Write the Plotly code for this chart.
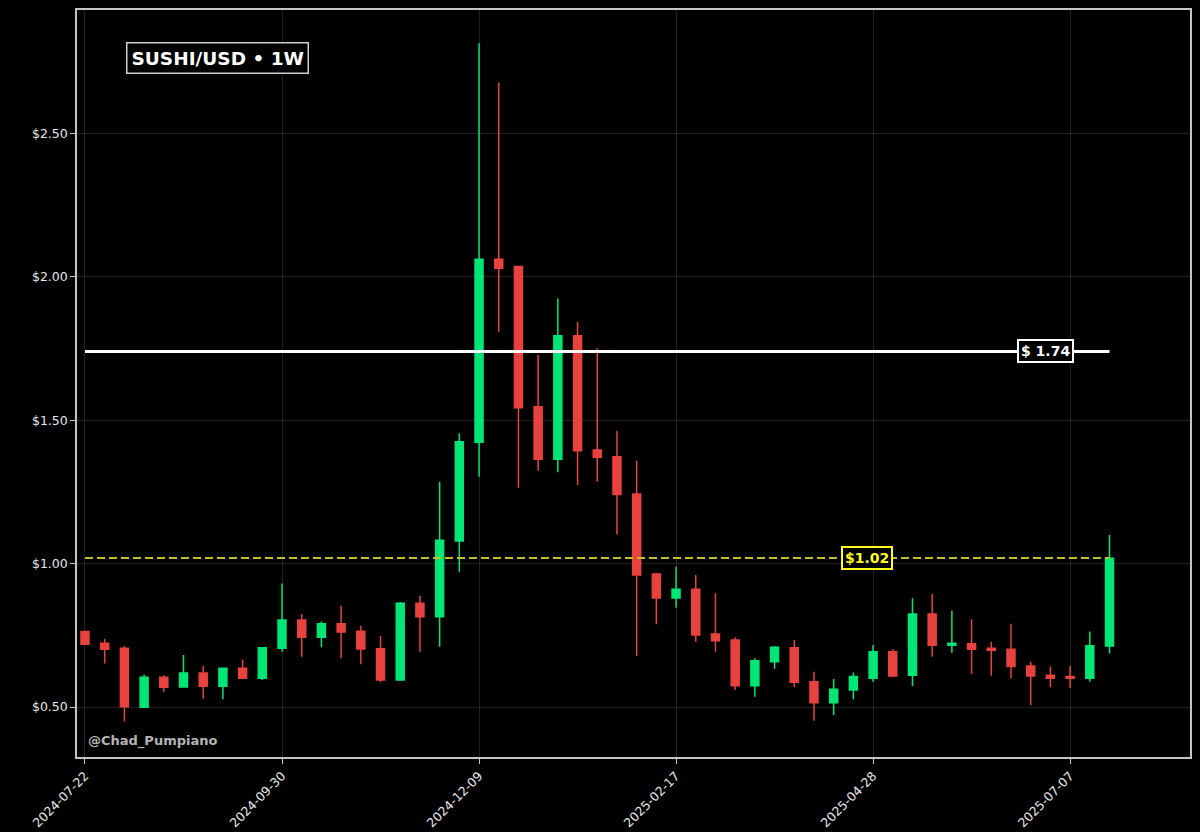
import pandas as pd
import plotly.graph_objects as go

dates = [
    "2024-07-22", "2024-07-29", "2024-08-05", "2024-08-12", "2024-08-19", "2024-08-26",
    "2024-09-02", "2024-09-09", "2024-09-16", "2024-09-23", "2024-09-30", "2024-10-07",
    "2024-10-14", "2024-10-21", "2024-10-28", "2024-11-04", "2024-11-11", "2024-11-18",
    "2024-11-25", "2024-12-02", "2024-12-09", "2024-12-16", "2024-12-23", "2024-12-30",
    "2025-01-06", "2025-01-13", "2025-01-20", "2025-01-27", "2025-02-03", "2025-02-10",
    "2025-02-17", "2025-02-24", "2025-03-03", "2025-03-10", "2025-03-17", "2025-03-24",
    "2025-03-31", "2025-04-07", "2025-04-14", "2025-04-21", "2025-04-28", "2025-05-05",
    "2025-05-12", "2025-05-19", "2025-05-26", "2025-06-02", "2025-06-09", "2025-06-16",
    "2025-06-23", "2025-06-30", "2025-07-07", "2025-07-14", "2025-07-21",
]

opens = [
    0.763, 0.722, 0.705, 0.499, 0.604, 0.570, 0.619, 0.572, 0.635, 0.600,
    0.705, 0.803, 0.743, 0.790, 0.764, 0.703, 0.594, 0.862, 0.815, 1.079,
    1.423, 2.062, 2.036, 1.547, 1.364, 1.795, 1.396, 1.373, 1.243, 0.964,
    0.880, 0.911, 0.755, 0.734, 0.574, 0.658, 0.707, 0.588, 0.515, 0.559,
    0.600, 0.693, 0.611, 0.824, 0.715, 0.721, 0.705, 0.701, 0.643, 0.611,
    0.606, 0.600, 0.713,
]
highs = [
    0.765, 0.737, 0.713, 0.613, 0.611, 0.681, 0.643, 0.636, 0.666, 0.708,
    0.931, 0.824, 0.798, 0.853, 0.783, 0.748, 0.866, 0.887, 1.286, 1.455,
    2.815, 2.678, 2.038, 1.728, 1.925, 1.844, 1.751, 1.463, 1.359, 0.968,
    0.989, 0.960, 0.897, 0.743, 0.670, 0.713, 0.734, 0.623, 0.598, 0.620,
    0.716, 0.701, 0.879, 0.894, 0.836, 0.806, 0.728, 0.790, 0.658, 0.641,
    0.643, 0.763, 1.100,
]
lows = [
    0.718, 0.652, 0.449, 0.497, 0.553, 0.568, 0.530, 0.527, 0.597, 0.594,
    0.693, 0.675, 0.708, 0.670, 0.649, 0.586, 0.592, 0.693, 0.710, 0.972,
    1.303, 1.809, 1.265, 1.324, 1.319, 1.274, 1.286, 1.102, 0.678, 0.789,
    0.846, 0.728, 0.693, 0.559, 0.536, 0.633, 0.569, 0.452, 0.472, 0.527,
    0.588, 0.604, 0.573, 0.675, 0.689, 0.615, 0.609, 0.600, 0.507, 0.569,
    0.566, 0.588, 0.687,
]
closes = [
    0.719, 0.701, 0.501, 0.604, 0.569, 0.619, 0.572, 0.635, 0.600, 0.707,
    0.803, 0.743, 0.790, 0.762, 0.702, 0.594, 0.862, 0.815, 1.082, 1.425,
    2.062, 2.030, 1.544, 1.364, 1.795, 1.394, 1.371, 1.241, 0.960, 0.880,
    0.911, 0.751, 0.731, 0.574, 0.661, 0.708, 0.586, 0.515, 0.562, 0.606,
    0.693, 0.608, 0.824, 0.715, 0.722, 0.701, 0.698, 0.641, 0.608, 0.600,
    0.600, 0.714, 1.019,
]

x_ticks = ["2024-07-22", "2024-09-30", "2024-12-09", "2025-02-17", "2025-04-28", "2025-07-07"]
y_ticks = [0.5, 1.0, 1.5, 2.0, 2.5]
y_tick_labels = ["$0.50", "$1.00", "$1.50", "$2.00", "$2.50"]

resistance = 1.74
current = 1.02
title_text = "SUSHI/USD • 1W"
watermark = "@Chad_Pumpiano"

GREEN = "#00e676"
RED = "#e8423f"
YELLOW = "#ffff1a"
DASH_YELLOW = "#c2c22c"

fig = go.Figure()
fig.add_trace(go.Candlestick(
    x=dates, open=opens, high=highs, low=lows, close=closes,
    increasing=dict(line=dict(color=GREEN, width=1.5), fillcolor=GREEN),
    decreasing=dict(line=dict(color=RED, width=1.5), fillcolor=RED),
    whiskerwidth=0, showlegend=False,
))

# reference lines
fig.add_shape(type="line", xref="x", yref="y", x0=dates[0], x1=dates[-1],
              y0=resistance, y1=resistance, line=dict(color="white", width=3))
fig.add_shape(type="line", xref="x", yref="y", x0=dates[0], x1=dates[-1],
              y0=current, y1=current, line=dict(color=DASH_YELLOW, width=2, dash="8px,4px"))

d0 = pd.Timestamp(dates[0])
x_range = [d0 - pd.Timedelta(days=2.84), d0 + pd.Timedelta(days=392.6)]
label_102_x = d0 + pd.Timedelta(days=278)

fig.add_annotation(x=dates[-1], y=resistance, xref="x", yref="y",
                   text=f"<b>$ {resistance:.2f}</b>", showarrow=False,
                   xanchor="right", xshift=-36,
                   font=dict(family="DejaVu Sans", size=14, color="white"),
                   bgcolor="black", bordercolor="white", borderwidth=2, borderpad=2)
fig.add_annotation(x=label_102_x, y=current, xref="x", yref="y",
                   text=f"<b>${current:.2f}</b>", showarrow=False,
                   font=dict(family="DejaVu Sans", size=14, color=YELLOW),
                   bgcolor="black", bordercolor=YELLOW, borderwidth=2, borderpad=2)
fig.add_annotation(x=0.1258, y=0.9364, xref="paper", yref="paper",
                   text=f"<b>{title_text}</b>", showarrow=False,
                   xanchor="center", yanchor="middle",
                   font=dict(family="DejaVu Sans", size=18.5, color="white"),
                   bgcolor="black", bordercolor="#cfcfcf", borderwidth=1.5, borderpad=4)
fig.add_annotation(x=0.008, y=0.0214, xref="paper", yref="paper",
                   text=f"<b>{watermark}</b>", showarrow=False,
                   xanchor="left", yanchor="middle",
                   font=dict(family="DejaVu Sans", size=13, color="#b4b4b4"))

axis_common = dict(
    showline=True, linecolor="#c4c4c4", linewidth=1.5, mirror=True,
    showgrid=True, gridcolor="rgba(255,255,255,0.13)", gridwidth=1,
    zeroline=False, ticks="outside", ticklen=5, tickcolor="#c4c4c4", tickwidth=1,
    tickfont=dict(family="DejaVu Sans", size=12.5, color="#e6e6e6"),
    automargin=False,
)

fig.update_layout(
    width=1200, height=832,
    margin=dict(l=77, r=10, t=10, b=75),
    paper_bgcolor="black", plot_bgcolor="black",
    boxgap=0.42,
    xaxis=dict(type="date", range=x_range, tickvals=x_ticks, ticktext=x_ticks,
               tickangle=-45, rangeslider=dict(visible=False), **axis_common),
    yaxis=dict(range=[0.3256, 2.931], tickvals=y_ticks, ticktext=y_tick_labels,
               **axis_common),
    showlegend=False,
)

fig.write_html(
    "out.html",
    config={"displayModeBar": False},
    post_script="document.body.style.margin='0';document.body.style.background='black';document.body.style.overflow='hidden';",
)
